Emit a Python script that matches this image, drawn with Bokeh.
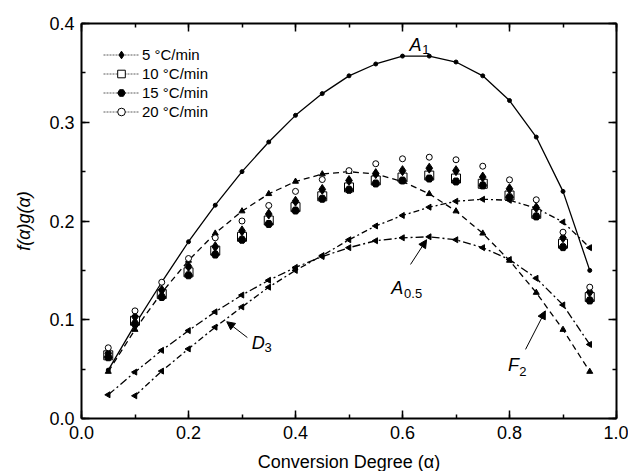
from bokeh.plotting import figure
from bokeh.models import (LinearAxis, SingleIntervalTicker, PrintfTickFormatter, Legend,
                          LegendItem, Label, Arrow, NormalHead)
from bokeh.embed import file_html
from bokeh.resources import INLINE
import math

# ---------------- data ----------------
alpha = [0.05, 0.10, 0.15, 0.20, 0.25, 0.30, 0.35, 0.40, 0.45, 0.50,
         0.55, 0.60, 0.65, 0.70, 0.75, 0.80, 0.85, 0.90, 0.95]

rate_5 = [0.066, 0.103, 0.130, 0.154, 0.174, 0.190, 0.207, 0.220, 0.232, 0.241,
          0.248, 0.251, 0.2535, 0.251, 0.2445, 0.2326, 0.2134, 0.183, 0.128]
rate_10 = [0.064, 0.099, 0.126, 0.148, 0.170, 0.184, 0.2005, 0.214, 0.225, 0.234,
           0.241, 0.244, 0.246, 0.243, 0.2377, 0.2258, 0.2073, 0.177, 0.123]
rate_15 = [0.062, 0.096, 0.123, 0.145, 0.166, 0.181, 0.197, 0.2106, 0.2225, 0.2316,
           0.238, 0.241, 0.243, 0.240, 0.236, 0.224, 0.2046, 0.1735, 0.1195]
rate_20 = [0.0716, 0.109, 0.138, 0.162, 0.183, 0.200, 0.2157, 0.230, 0.242, 0.251,
           0.258, 0.263, 0.2646, 0.262, 0.2555, 0.2417, 0.2215, 0.1887, 0.133]

A1 = [0.049, 0.095, 0.138, 0.179, 0.216, 0.250, 0.280, 0.307, 0.329, 0.347,
      0.359, 0.367, 0.367, 0.361, 0.347, 0.322, 0.285, 0.230, 0.150]
A05 = [0.024, 0.047, 0.069, 0.089, 0.108, 0.125, 0.140, 0.153, 0.164, 0.173,
       0.180, 0.183, 0.184, 0.181, 0.173, 0.161, 0.142, 0.115, 0.075]
F2 = [0.0475, 0.090, 0.1275, 0.160, 0.1875, 0.210, 0.2275, 0.240, 0.2475, 0.250,
      0.2475, 0.240, 0.2275, 0.210, 0.1875, 0.160, 0.1275, 0.090, 0.0475]
alpha_D3 = [0.10, 0.15, 0.20, 0.25, 0.30, 0.35, 0.40, 0.45, 0.50,
            0.55, 0.60, 0.65, 0.70, 0.75, 0.80, 0.85, 0.90, 0.95]
D3 = [0.023, 0.048, 0.0705, 0.0925, 0.113, 0.133, 0.150, 0.165, 0.181,
      0.195, 0.2056, 0.214, 0.220, 0.222, 0.221, 0.213, 0.199, 0.173]

legend_labels = ["5 \u00b0C/min", "10 \u00b0C/min", "15 \u00b0C/min", "20 \u00b0C/min"]
x_title = "Conversion Degree (\u03b1)"
y_title = "f(\u03b1)g(\u03b1)"

FONT = "Liberation Sans"

p = figure(frame_width=535, frame_height=395, x_range=(0, 1), y_range=(0, 0.4),
           output_backend="svg", toolbar_location=None,
           min_border_left=81, min_border_right=12, min_border_top=23, min_border_bottom=53,
           x_axis_location=None, y_axis_location=None)
p.outline_line_color = None
p.background_fill_color = "white"
p.border_fill_color = "white"


def make_axis(interval, labels=True, title=None):
    ax = LinearAxis(ticker=SingleIntervalTicker(interval=interval, num_minor_ticks=2),
                    formatter=PrintfTickFormatter(format="%.1f"))
    ax.axis_line_width = 2
    ax.axis_line_color = "black"
    ax.major_tick_in = 8
    ax.major_tick_out = 0
    ax.minor_tick_in = 4
    ax.minor_tick_out = 0
    ax.major_tick_line_width = 1.5
    ax.minor_tick_line_width = 1.5
    ax.major_tick_line_color = "black"
    ax.minor_tick_line_color = "black"
    if labels:
        ax.major_label_text_font = FONT
        ax.major_label_text_font_size = "18px"
        ax.major_label_text_color = "black"
        ax.major_label_standoff = 7
    else:
        ax.major_label_text_font_size = "0px"
        ax.major_label_text_alpha = 0
        ax.major_label_standoff = 0
    if title:
        ax.axis_label = title
        ax.axis_label_text_font = FONT
        ax.axis_label_text_font_size = "18px"
        ax.axis_label_text_font_style = "normal"
        ax.axis_label_text_color = "black"
        ax.axis_label_standoff = 10
    return ax


xb = make_axis(0.2, True, x_title)
yl = make_axis(0.1, True, y_title)
yl.axis_label_text_font_style = "italic"
yl.axis_label_standoff = 12
xt = make_axis(0.2, False)
yr = make_axis(0.1, False)
p.add_layout(xb, "below")
p.add_layout(yl, "left")
p.add_layout(xt, "above")
p.add_layout(yr, "right")
p.xgrid.visible = False
p.ygrid.visible = False

# ---------------- model curves ----------------
p.line(alpha, A1, line_color="black", line_width=1.3)
p.scatter(alpha, A1, marker="circle", size=4, color="black")

p.line(alpha, F2, line_color="black", line_width=1.3, line_dash="6 4")
p.scatter(alpha, F2, marker="triangle", size=6, color="black")

p.line(alpha, A05, line_color="black", line_width=1.3, line_dash="8 3 2 3")
p.scatter(alpha, A05, marker="triangle", angle=math.pi / 2, size=6, color="black")

p.line(alpha_D3, D3, line_color="black", line_width=1.3, line_dash="6 3 2 3")
p.scatter(alpha_D3, D3, marker="triangle", angle=math.pi / 2, size=6, color="black")

# ---------------- experimental points ----------------
r10 = p.scatter(alpha, rate_10, marker="square", size=9, fill_color="white",
                line_color="black", line_width=1)
r15 = p.scatter(alpha, rate_15, marker="hex", size=8, fill_color="black",
                line_color="black")
r5 = p.scatter(alpha, rate_5, marker="diamond", size=10, fill_color="black",
               line_color="black")
r20 = p.scatter(alpha, rate_20, marker="circle", size=6, fill_color="white",
                line_color="black", line_width=1)

items = []
for lab, r in zip(legend_labels, [r5, r10, r15, r20]):
    ln = p.line(x=[-5, -4], y=[-5, -5], line_color="#333333", line_width=0.8,
                line_dash="2 1")
    items.append(LegendItem(label=lab, renderers=[ln, r]))

legend = Legend(items=items, location=(22, 297))
legend.border_line_color = None
legend.background_fill_alpha = 0
legend.label_text_font = FONT
legend.label_text_font_size = "15px"
legend.label_text_color = "black"
legend.glyph_width = 36
legend.glyph_height = 19
legend.label_height = 19
legend.label_standoff = 3
legend.spacing = 0
legend.padding = 2
legend.margin = 0
p.add_layout(legend)

# ---------------- annotations ----------------
def sub_label(x, y, main, sub, dx, dy):
    p.add_layout(Label(x=x, y=y, text=main, text_font=FONT, text_font_style="italic",
                       text_font_size="18px", text_baseline="alphabetic", text_color="black"))
    p.add_layout(Label(x=x + dx, y=y - dy, text=sub, text_font=FONT,
                       text_font_size="13px", text_baseline="alphabetic", text_color="black"))

sub_label(0.613, 0.378, "A", "1", 0.024, 0.004)
sub_label(0.579, 0.132, "A", "0.5", 0.024, 0.005)
sub_label(0.318, 0.076, "D", "3", 0.024, 0.004)
sub_label(0.797, 0.054, "F", "2", 0.021, 0.006)

for xs, ys, xe, ye in [(0.615, 0.156, 0.645, 0.181),
                       (0.310, 0.082, 0.2715, 0.098),
                       (0.830, 0.070, 0.867, 0.109)]:
    p.add_layout(Arrow(end=NormalHead(size=8, fill_color="black", line_color="black"),
                       x_start=xs, y_start=ys, x_end=xe, y_end=ye,
                       line_color="black", line_width=1))

open("out.html", "w").write(file_html(p, INLINE))
